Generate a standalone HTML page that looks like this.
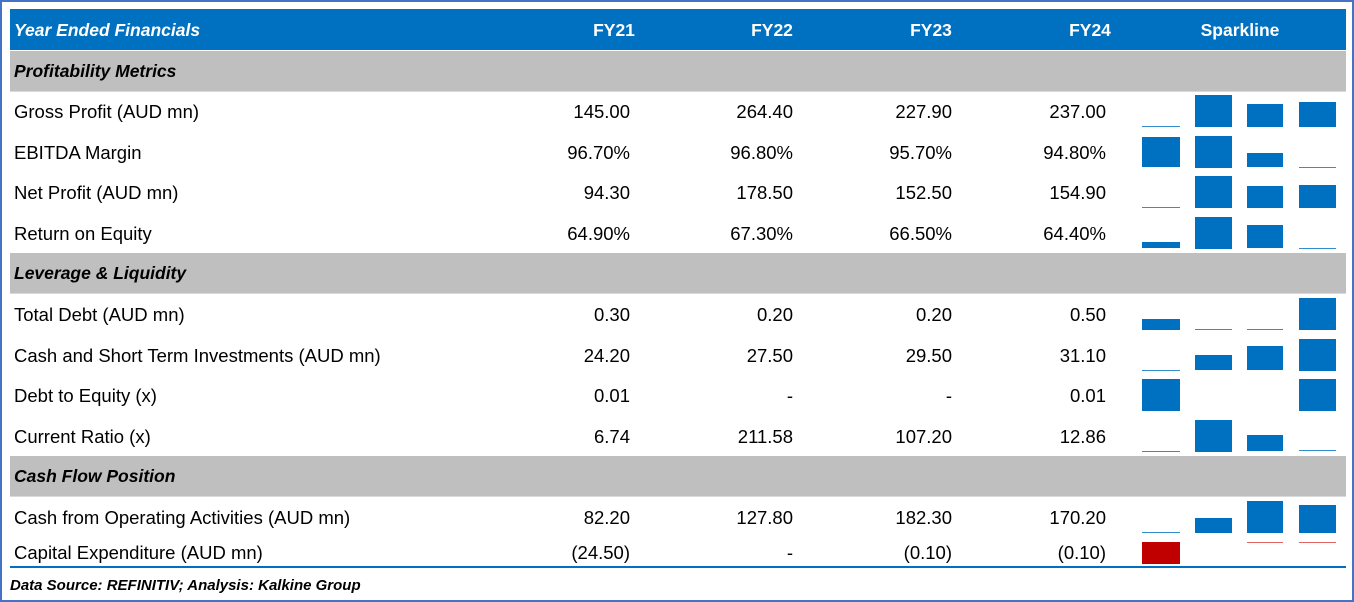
<!DOCTYPE html>
<html><head><meta charset="utf-8">
<style>
html,body{margin:0;padding:0;background:#fff}
#frame{position:relative;width:1354px;height:602px;overflow:hidden;font-family:"Liberation Sans",sans-serif;color:#000}
#border{position:absolute;left:0;top:0;width:1350px;height:598px;border:2px solid #4472C4}
.band{position:absolute;left:10px;width:1336px}
.t{position:absolute;white-space:nowrap;font-size:18.5px;line-height:20px}
.l{transform-origin:left center}
.r{text-align:right}
.c{text-align:center}
.bar{position:absolute}
</style></head><body>
<div id="frame"><div id="border"></div></div>
<script>
const years=['FY21','FY22','FY23','FY24'];
const sections=[
 {title:'Profitability Metrics',top:51},
 {title:'Leverage & Liquidity',top:253},
 {title:'Cash Flow Position',top:456}
];
const rowLabels=['Gross Profit (AUD mn)','EBITDA Margin','Net Profit (AUD mn)','Return on Equity','Total Debt (AUD mn)','Cash and Short Term Investments (AUD mn)','Debt to Equity (x)','Current Ratio (x)','Cash from Operating Activities (AUD mn)','Capital Expenditure (AUD mn)'];
const rowText=[
 ['145.00','264.40','227.90','237.00'],
 ['96.70%','96.80%','95.70%','94.80%'],
 ['94.30','178.50','152.50','154.90'],
 ['64.90%','67.30%','66.50%','64.40%'],
 ['0.30','0.20','0.20','0.50'],
 ['24.20','27.50','29.50','31.10'],
 ['0.01','-','-','0.01'],
 ['6.74','211.58','107.20','12.86'],
 ['82.20','127.80','182.30','170.20'],
 ['(24.50)','-','(0.10)','(0.10)']
];
const rowValues=[
 [145.0,264.4,227.9,237.0],
 [96.7,96.8,95.7,94.8],
 [94.3,178.5,152.5,154.9],
 [64.9,67.3,66.5,64.4],
 [0.3,0.2,0.2,0.5],
 [24.2,27.5,29.5,31.1],
 [0.01,null,null,0.01],
 [6.74,211.58,107.2,12.86],
 [82.2,127.8,182.3,170.2],
 [-24.5,null,-0.1,-0.1]
];
const rowTops=[91,131.5,172,212.5,294,334.5,375,415.5,497,538];
const colRight=[630,793,952,1106];
const colCenter=[614,772,931,1090];
const sparkX=[1142,1195,1247,1299];
const sparkW=[38,37,36,37];

const F=document.getElementById('frame');
function add(tag,cls,name,style,text){
 const e=document.createElement(tag);
 if(cls)e.className=cls;
 
 
 Object.assign(e.style,style);
 if(text!==undefined)e.textContent=text;
 F.appendChild(e);return e;
}
add('div','band','header-row',{top:'9px',height:'41px',background:'#0070C0'});
add('div','t l','header-title',{left:'14px',top:'20px',color:'#fff',fontWeight:'bold',fontStyle:'italic',fontSize:'17.5px'},'Year Ended Financials');
years.forEach((y,i)=>{
 add('div','t c','header-'+y.toLowerCase(),{left:(colCenter[i]-40)+'px',width:'80px',top:'20px',color:'#fff',fontWeight:'bold',fontSize:'17.5px'},y);
});
add('div','t c','header-sparkline',{left:'1180px',width:'120px',top:'20px',color:'#fff',fontWeight:'bold',fontSize:'17.5px'},'Sparkline');
sections.forEach((s,i)=>{
 add('div','band','section-band',{top:s.top+'px',height:'40px',background:'#BFBFBF',borderBottom:'1px solid #D9D9D9'});
 add('div','t l','section-title',{left:'14px',top:(s.top+10)+'px',fontWeight:'bold',fontStyle:'italic',fontSize:'17.5px'},s.title);
});
rowLabels.forEach((lab,r)=>{
 const top=rowTops[r];
 const ty=top+(r===9?5:11);
 add('div','t l','row-label',{left:'14px',top:ty+'px'},lab);
 rowText[r].forEach((v,i)=>{
  add('div','t r','value-'+years[i].toLowerCase(),{left:(colRight[i]-120)+'px',width:'120px',top:ty+'px'},v);
 });
 const vals=rowValues[r];
 const nums=vals.filter(v=>v!==null);
 if(r===9){
  const mx=Math.max(...nums.map(Math.abs));
  vals.forEach((v,i)=>{
   if(v===null)return;
   const hh=1+Math.abs(v)/mx*21;
   add('div','bar','spark-bar',{left:sparkX[i]+'px',width:sparkW[i]+'px',top:(top+4)+'px',height:hh+'px',background:hh>3?'#C00000':'#E06666'});
  });
 }else{
  const mn=Math.min(...nums),mx=Math.max(...nums);
  const base=top+36,H=32;
  vals.forEach((v,i)=>{
   if(v===null)return;
   const hh=(mx===mn)?H:1+(v-mn)/(mx-mn)*(H-1);
   add('div','bar','spark-bar',{left:sparkX[i]+'px',width:sparkW[i]+'px',top:(base-hh)+'px',height:hh+'px',background:'#0070C0',opacity:hh<3?0.8:1});
  });
 }
});
add('div','band','bottom-rule',{top:'566px',height:'2px',background:'#0070C0'});
add('div','t l','footer-source',{left:'10px',top:'576px',fontSize:'15px',fontWeight:'bold',fontStyle:'italic'},'Data Source: REFINITIV; Analysis: Kalkine Group');
</script>
</body></html>
